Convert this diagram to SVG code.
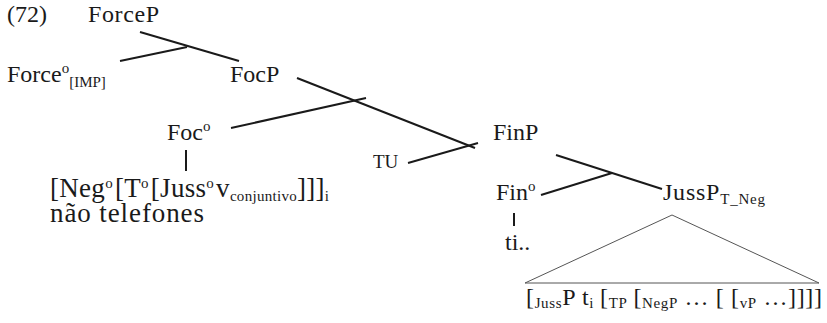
<svg xmlns="http://www.w3.org/2000/svg" width="827" height="323" viewBox="0 0 827 323">
<style>
text{font-family:"Liberation Serif","Times New Roman",serif;font-size:24px;fill:#1a1a1a}
.sub{font-size:15px}
.sm{font-size:19px}
.big{font-size:27px}
.e{stroke:#1a1a1a;stroke-width:2;fill:none}
.t{stroke:#555;stroke-width:1;fill:none}
</style>
<rect width="827" height="323" fill="#fff"/>
<text x="7" y="22" font-size="23">(72)</text>
<g id="forceP"><text x="88" y="22" textLength="71" lengthAdjust="spacing">ForceP</text></g>
<g id="force0"><text x="7" y="82">Force<tspan dy="-9" class="sub">o</tspan><tspan dy="14" class="sub">[IMP]</tspan></text></g>
<g id="focP"><text x="230" y="82">FocP</text></g>
<g id="foc0"><text x="167" y="140">Foc<tspan dy="-9" class="sub">o</tspan></text></g>
<g id="neg"><text x="50" y="197" class="big" textLength="279" lengthAdjust="spacing">[Neg<tspan dy="-9" class="sub">o</tspan><tspan dy="9" dx="2">[T</tspan><tspan dy="-9" class="sub">o</tspan><tspan dy="9" dx="2">[Juss</tspan><tspan dy="-9" class="sub">o</tspan><tspan dy="9" dx="2">v</tspan><tspan dy="4" class="sub">conjuntivo</tspan><tspan dy="-4">]]]</tspan><tspan dy="4" class="sub">i</tspan></text>
<text x="50" y="222" class="big" textLength="154" lengthAdjust="spacing">não telefones</text></g>
<g id="finP"><text x="493" y="140">FinP</text></g>
<g id="tu"><text x="373" y="168" class="sm">TU</text></g>
<g id="fin0"><text x="496" y="200">Fin<tspan dy="-9" class="sub">o</tspan></text></g>
<g id="jussP"><text x="663" y="200" font-size="25" textLength="102" lengthAdjust="spacing">JussP<tspan dy="4" class="sub">T_Neg</tspan></text></g>
<g id="ti"><text x="505" y="250">ti..</text></g>
<g id="bottom"><text x="526" y="305" textLength="296" lengthAdjust="spacing">[<tspan dy="3" class="sub">Juss</tspan><tspan dy="-3">P t</tspan><tspan dy="3" class="sub">i</tspan><tspan dy="-3" dx="6">[</tspan><tspan dy="3" class="sub">TP</tspan><tspan dy="-3" dx="6">[</tspan><tspan dy="3" class="sub">NegP</tspan><tspan dy="-3"> … [ [</tspan><tspan dy="3" class="sub">vP</tspan><tspan dy="-3"> …]]]]</tspan></text></g>
<g id="connectors">
<line class="e" x1="140" y1="32" x2="239" y2="61"/>
<line class="e" x1="120" y1="61" x2="187" y2="47"/>
<line class="e" x1="297" y1="78" x2="475" y2="148"/>
<line class="e" x1="231" y1="128" x2="366" y2="98"/>
<line class="e" x1="186" y1="150" x2="186" y2="171"/>
<line class="e" x1="408" y1="163" x2="478" y2="143"/>
<line class="e" x1="556" y1="155" x2="662" y2="189"/>
<line class="e" x1="541" y1="195" x2="612" y2="173"/>
<line class="e" x1="514" y1="213" x2="514" y2="226"/>
<polygon class="t" points="672,215 525,283 819,283"/>
</g>
</svg>
